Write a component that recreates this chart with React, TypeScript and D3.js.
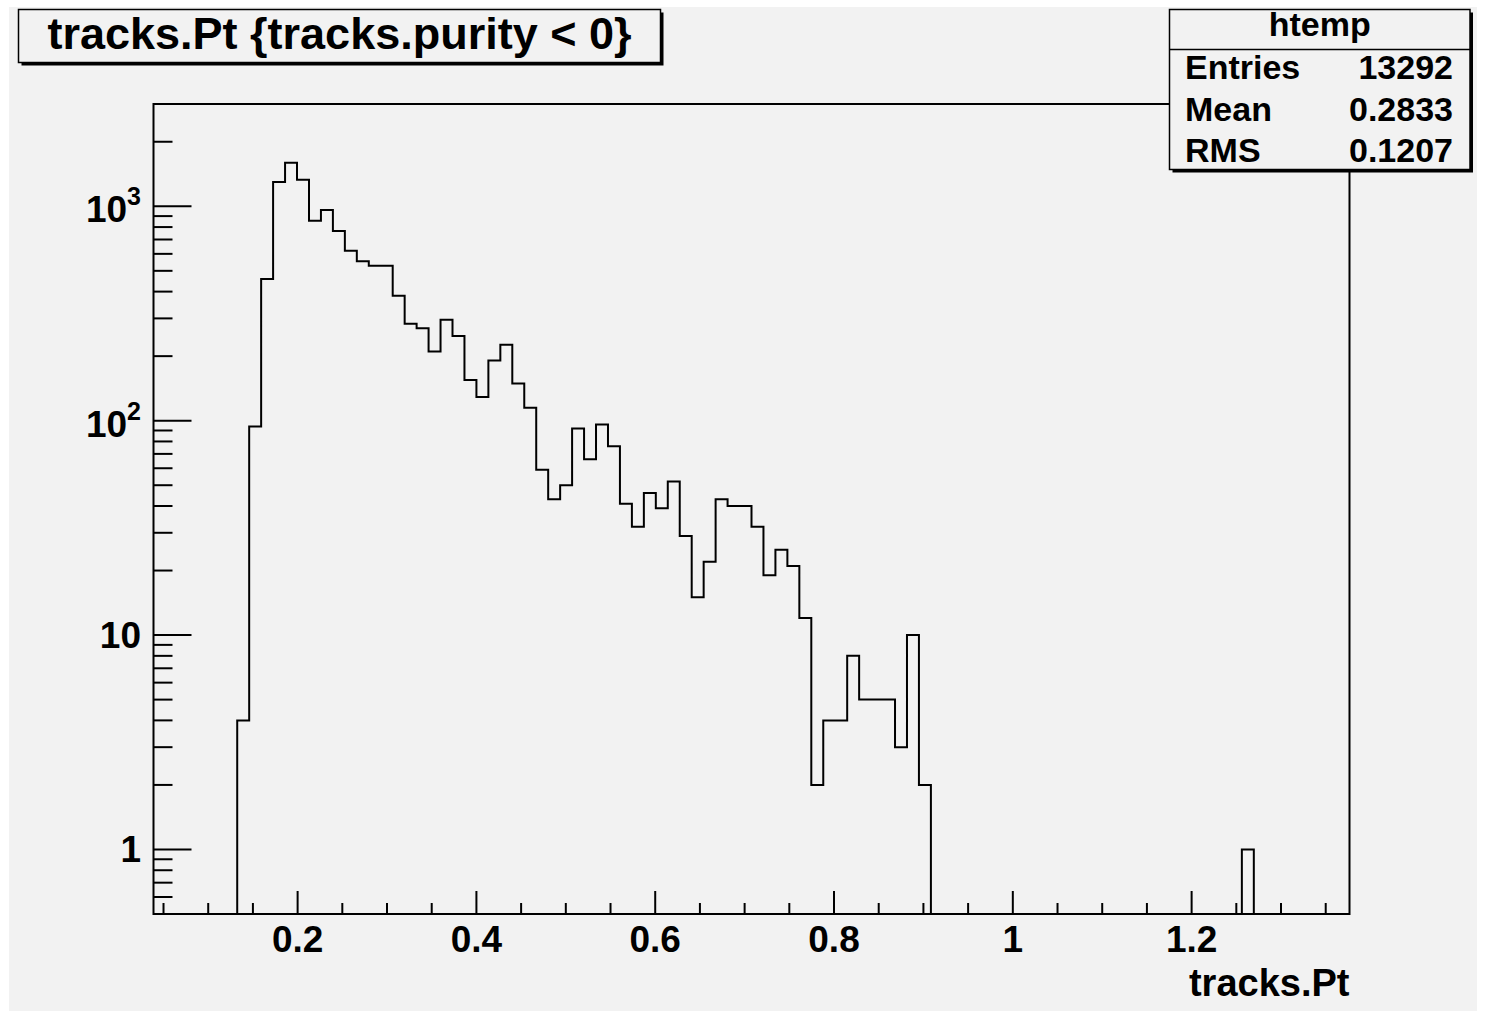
import React from "react";
import * as d3 from "d3";

// Histogram binning (fixed-width bins over the axis range)
const nBins = 100;
const xMin = 0.0388;
const xMax = 1.3766;

// Bin contents, 10 bins per row
const counts: number[] = [
  0, 0, 0, 0, 0, 0, 0, 4, 94, 458,
  1297, 1595, 1329, 856, 960, 766, 620, 554, 528, 528,
  383, 283, 270, 210, 296, 248, 155, 129, 191, 226,
  149, 115, 59, 43, 50, 92, 66, 96, 76, 41,
  32, 46, 39, 52, 29, 15, 22, 43, 40, 40,
  32, 19, 25, 21, 12, 2, 4, 4, 8, 5,
  5, 5, 3, 10, 2, 0, 0, 0, 0, 0,
  0, 0, 0, 0, 0, 0, 0, 0, 0, 0,
  0, 0, 0, 0, 0, 0, 0, 0, 0, 0,
  0, 1, 0, 0, 0, 0, 0, 0, 0, 0,
];

const yMin = 0.5;
const yMax = 3000;

const xMajorTicks = [0.2, 0.4, 0.6, 0.8, 1, 1.2];
const xMinorStep = 0.05;
const yDecadeTicks = [1, 10, 100, 1000];

const titleText = "tracks.Pt {tracks.purity < 0}";
const xAxisTitle = "tracks.Pt";
const statsName = "htemp";
const statLabels = ["Entries", "Mean", "RMS"];
const statValues = ["13292", "0.2833", "0.1207"];

const W = 1485;
const H = 1011;
const frame = { left: 153.5, right: 1349.5, top: 104, bottom: 914 };
const BG = "#f2f2f2";
const FONT = "'Liberation Sans', Arial, Helvetica, sans-serif";

export default function App() {
  const x = d3.scaleLinear().domain([xMin, xMax]).range([frame.left, frame.right]);
  const y = d3.scaleLog().domain([yMin, yMax]).range([frame.bottom, frame.top]);
  const binW = (xMax - xMin) / nBins;

  // step outline of the histogram, empty bins sit on the lower frame edge
  const pts: [number, number][] = [[x(xMin), frame.bottom]];
  counts.forEach((c, i) => {
    const yy = c > 0 ? y(c) : frame.bottom;
    pts.push([x(xMin + i * binW), yy]);
    pts.push([x(xMin + (i + 1) * binW), yy]);
  });
  pts.push([x(xMax), frame.bottom]);
  const histPath = d3.line()(pts) || "";

  const xMinor = d3
    .range(1, 28)
    .map((i) => i * xMinorStep)
    .filter((v) => v > xMin && v < xMax && Math.round(v * 100) % 20 !== 0);

  const yAllTicks = y.ticks().filter((v) => v > yMin && v < yMax);
  const isDecade = (v: number) => Math.abs(Math.log10(v) - Math.round(Math.log10(v))) < 1e-9;
  const yMinor = yAllTicks.filter((v) => !isDecade(v));

  const yLabel = (v: number) => {
    const e = Math.round(Math.log10(v));
    const yy = y(v);
    if (e <= 1) {
      return (
        <text key={v} x={141} y={yy + 12.5} textAnchor="end" fontSize={37}>
          {String(v)}
        </text>
      );
    }
    return (
      <text key={v} x={141} y={yy + 16} textAnchor="end" fontSize={37}>
        <tspan>10</tspan>
        <tspan dy={-17} fontSize={25}>
          {String(e)}
        </tspan>
      </text>
    );
  };

  const stats = { x: 1169.5, y: 9.5, w: 300.5, h: 160 };
  const tbox = { x: 18.5, y: 9.5, w: 642, h: 53 };

  return (
    <svg
      width={W}
      height={H}
      style={{ position: "absolute", left: 0, top: 0, display: "block" }}
      fontFamily={FONT}
      fontWeight="bold"
    >
      <rect x={0} y={0} width={W} height={H} fill="#ffffff" />
      <rect x={9} y={7} width={1468} height={H - 7} fill={BG} />

      <defs>
        <clipPath id="frameClip">
          <rect x={frame.left} y={frame.top} width={frame.right - frame.left} height={frame.bottom - frame.top} />
        </clipPath>
      </defs>

      {/* histogram */}
      <path d={histPath} fill="none" stroke="#000" strokeWidth={2} clipPath="url(#frameClip)" />

      {/* frame */}
      <rect
        x={frame.left}
        y={frame.top}
        width={frame.right - frame.left}
        height={frame.bottom - frame.top}
        fill="none"
        stroke="#000"
        strokeWidth={2}
      />

      {/* x axis ticks */}
      {xMajorTicks.map((v) => (
        <line key={"xM" + v} x1={x(v)} x2={x(v)} y1={frame.bottom} y2={frame.bottom - 23} stroke="#000" strokeWidth={2} />
      ))}
      {xMinor.map((v) => (
        <line key={"xm" + v} x1={x(v)} x2={x(v)} y1={frame.bottom} y2={frame.bottom - 11} stroke="#000" strokeWidth={2} />
      ))}
      {xMajorTicks.map((v) => (
        <text key={"xl" + v} x={x(v)} y={952} textAnchor="middle" fontSize={37}>
          {String(v)}
        </text>
      ))}
      <text x={frame.right} y={996} textAnchor="end" fontSize={38}>
        {xAxisTitle}
      </text>

      {/* y axis ticks */}
      {yDecadeTicks.map((v) => (
        <line key={"yM" + v} x1={frame.left} x2={frame.left + 38} y1={y(v)} y2={y(v)} stroke="#000" strokeWidth={2} />
      ))}
      {yMinor.map((v) => (
        <line key={"ym" + v} x1={frame.left} x2={frame.left + 19} y1={y(v)} y2={y(v)} stroke="#000" strokeWidth={2} />
      ))}
      {yDecadeTicks.map(yLabel)}

      {/* title box */}
      <rect x={tbox.x + 3} y={tbox.y + 3} width={tbox.w} height={tbox.h} fill="#000" />
      <rect x={tbox.x} y={tbox.y} width={tbox.w} height={tbox.h} fill={BG} stroke="#000" strokeWidth={1.5} />
      <text x={tbox.x + tbox.w / 2} y={49} textAnchor="middle" fontSize={45}>
        {titleText}
      </text>

      {/* statistics box */}
      <rect x={stats.x + 3} y={stats.y + 3} width={stats.w} height={stats.h} fill="#000" />
      <rect x={stats.x} y={stats.y} width={stats.w} height={stats.h} fill={BG} stroke="#000" strokeWidth={1.5} />
      <line x1={stats.x} x2={stats.x + stats.w} y1={49.5} y2={49.5} stroke="#000" strokeWidth={1.5} />
      <text x={stats.x + stats.w / 2} y={36} textAnchor="middle" fontSize={34}>
        {statsName}
      </text>
      {statLabels.map((s, i) => (
        <text key={s} x={1185} y={79 + i * 41.5} fontSize={34}>
          {s}
        </text>
      ))}
      {statValues.map((s, i) => (
        <text key={s} x={1453} y={79 + i * 41.5} textAnchor="end" fontSize={34}>
          {s}
        </text>
      ))}
    </svg>
  );
}
